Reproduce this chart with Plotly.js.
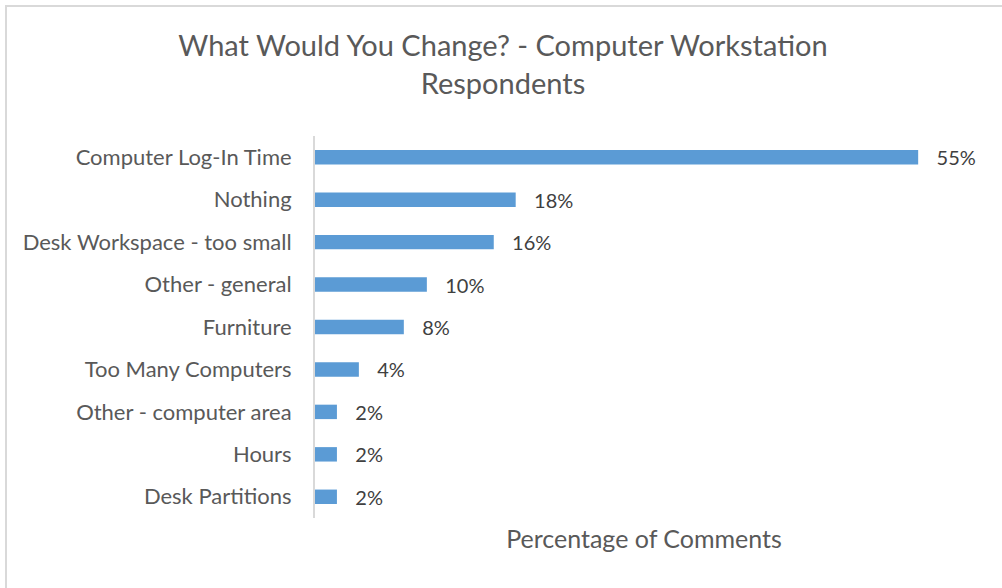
<!DOCTYPE html>
<html>
<head>
<meta charset="utf-8">
<script src="https://cdn.plot.ly/plotly-3.0.1.min.js"></script>
<style>
  body { margin: 0; background: #fff; }
  #chart { width: 1002px; height: 588px; }
  #frame {
    position: absolute; left: 5px; top: 5px; width: 995px; height: 600px;
    border: 2px solid #d9d9d9; pointer-events: none;
  }
</style>
</head>
<body>
<div id="chart"></div>
<div id="frame"></div>
<script>
// Categories from top to bottom, as in the original chart
let categories = [
  'Computer Log-In Time',
  'Nothing',
  'Desk Workspace - too small',
  'Other - general',
  'Furniture',
  'Too Many Computers',
  'Other - computer area',
  'Hours',
  'Desk Partitions'
];
// Percentage of comments
let percents = [55, 18.3, 16.3, 10.2, 8.1, 4.0, 2.0, 2.0, 2.0];

let pad = '\u00a0\u00a0\u00a0';

let data = [{
  type: 'bar',
  orientation: 'h',
  y: categories,
  x: percents,
  width: 0.34,
  marker: { color: '#5b9bd5' },
  text: percents.map(v => pad + Math.round(v) + '%'),
  textposition: 'outside',
  constraintext: 'none',
  cliponaxis: false,
  textfont: { family: 'Lato', size: 20, color: '#404040' },
  hoverinfo: 'none'
}];

let layout = {
  width: 1002,
  height: 588,
  margin: { l: 315, r: 29, t: 136, b: 70 },
  paper_bgcolor: '#fff',
  plot_bgcolor: '#fff',
  showlegend: false,
  font: { family: 'Lato', color: '#595959' },
  title: {
    text: 'What Would You Change? - Computer Workstation<br>Respondents',
    font: { family: 'Lato', size: 29, color: '#595959' },
    x: 0.502,
    xanchor: 'center',
    y: 0.904,
    yanchor: 'middle'
  },
  xaxis: {
    range: [0, 60],
    showticklabels: false,
    showgrid: false,
    zeroline: false,
    showline: false,
    ticks: '',
    fixedrange: true,
    title: {
      text: 'Percentage of Comments',
      font: { family: 'Lato', size: 25, color: '#595959' },
      standoff: 12
    }
  },
  yaxis: {
    autorange: 'reversed',
    showgrid: false,
    zeroline: false,
    showline: true,
    linecolor: '#d9d9d9',
    linewidth: 2,
    ticks: '',
    ticklabelstandoff: 17,
    tickfont: { family: 'Lato', size: 22, color: '#595959' },
    fixedrange: true
  }
};

Plotly.newPlot('chart', data, layout, { displayModeBar: false, staticPlot: true });
</script>
</body>
</html>
